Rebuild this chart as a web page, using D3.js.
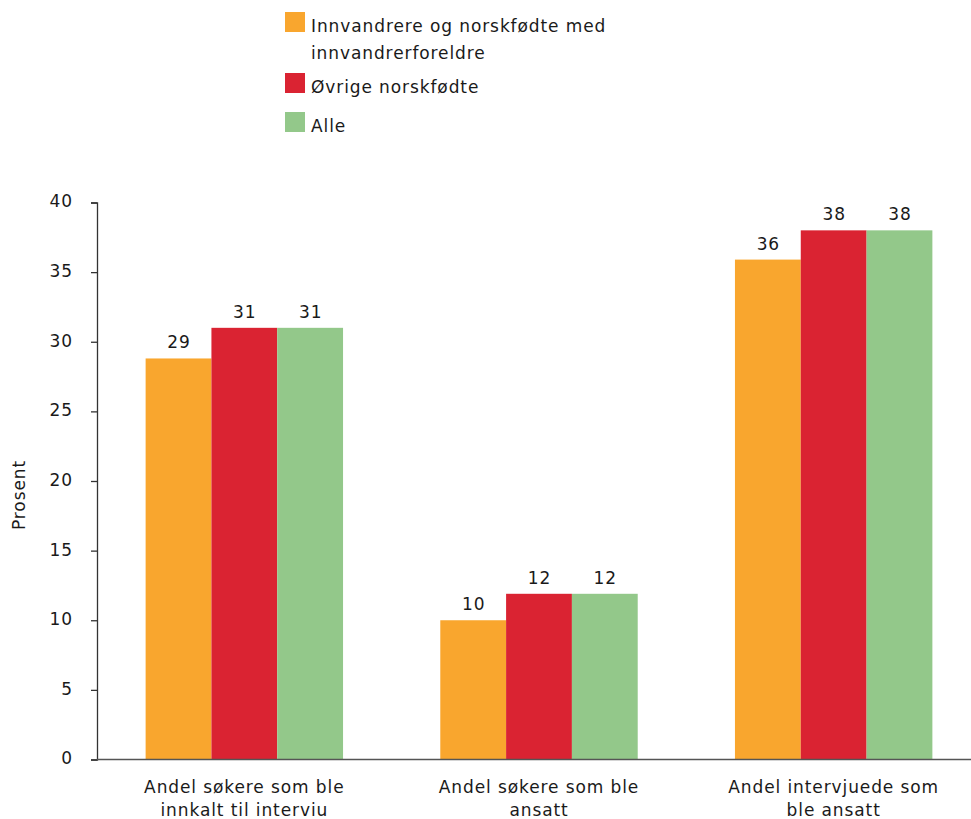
<!DOCTYPE html>
<html><head><meta charset="utf-8">
<script src="https://cdn.jsdelivr.net/npm/d3@7"></script>
<style>body{margin:0;background:#fff}svg{display:block}text{font-family:"DejaVu Sans",Verdana,sans-serif;fill:#1a1a1a;letter-spacing:0.9px}</style>
</head><body>
<svg id="c" width="971" height="819"></svg>
<script>
const categories = [["Andel søkere som ble","innkalt til interviu"],["Andel søkere som ble","ansatt"],["Andel intervjuede som","ble ansatt"]];
const seriesNames = [["Innvandrere og norskfødte med","innvandrerforeldre"],["Øvrige norskfødte"],["Alle"]];
const immigrants = [28.8, 10.0, 35.9];
const others = [31.0, 11.9, 38.0];
const all = [31.0, 11.9, 38.0];
const immigrantsLabels = [29, 10, 36];
const othersLabels = [31, 12, 38];
const allLabels = [31, 12, 38];
const yTicks = [0,5,10,15,20,25,30,35,40];
const colors = ["#f9a62e","#da2332","#93c88a"];

const series = [immigrants, others, all];
const labelsBySeries = [immigrantsLabels, othersLabels, allLabels];
const svg = d3.select("#c");
const mLeft = 97, mRight = 981, mTop = 202.5, mBottom = 759.5;
const y = d3.scaleLinear().domain([0,40]).range([mBottom, mTop]);
const x0 = d3.scaleBand().domain(d3.range(categories.length)).range([mLeft, mRight]).paddingInner(0.33).paddingOuter(0.165);
const x1 = d3.scaleBand().domain(d3.range(series.length)).range([0, x0.bandwidth()]);

// bars
series.forEach((vals, s) => {
  svg.append("g").selectAll("rect").data(vals).join("rect")
    .attr("x", (d,i) => x0(i) + x1(s))
    .attr("y", d => y(d))
    .attr("width", x1.bandwidth())
    .attr("height", d => y(0) - y(d))
    .attr("fill", colors[s]);
  svg.append("g").selectAll("text").data(vals).join("text")
    .attr("x", (d,i) => x0(i) + x1(s) + x1.bandwidth()/2 + 0.5)
    .attr("y", d => y(d) - 10)
    .attr("text-anchor","middle")
    .attr("font-size","17px")
    .text((d,i) => labelsBySeries[s][i]);
});

// y axis
const ya = svg.append("g").attr("transform",`translate(${mLeft},0)`)
  .call(d3.axisLeft(y).tickValues(yTicks).tickSize(6).tickPadding(18));
ya.select(".domain").attr("stroke","#333").attr("stroke-width",1.3);
ya.selectAll(".tick line").attr("stroke","#333").attr("stroke-width",1.3);
ya.selectAll(".tick text").attr("font-size","17px").attr("font-family","DejaVu Sans").attr("fill","#1a1a1a").attr("dy","0.26em");

// x axis line
svg.append("line").attr("x1",mLeft).attr("x2",mRight).attr("y1",y(0)).attr("y2",y(0))
  .attr("stroke","#555").attr("stroke-width",1.5);

// category labels
categories.forEach((lines,i) => {
  const cx = x0(i) + x0.bandwidth()/2;
  const t = svg.append("text").attr("text-anchor","middle").attr("font-size","17px")
    .attr("x", cx).attr("y", 793);
  lines.forEach((l,k) => t.append("tspan").attr("x", cx).attr("dy", k ? 23 : 0).text(l));
});

// y label
svg.append("text").attr("transform","translate(25,495) rotate(-90)").attr("text-anchor","middle")
  .attr("font-size","17px").text("Prosent");

// legend
const legY = [12, 73, 112];
seriesNames.forEach((lines, s) => {
  svg.append("rect").attr("x",285).attr("y",legY[s]).attr("width",20).attr("height",20).attr("fill",colors[s]);
  const t = svg.append("text").attr("x",311).attr("y",legY[s]+20).attr("font-size","17px");
  lines.forEach((l,k) => t.append("tspan").attr("x",311).attr("dy", k ? 27 : 0).text(l));
});
</script>
</body></html>
